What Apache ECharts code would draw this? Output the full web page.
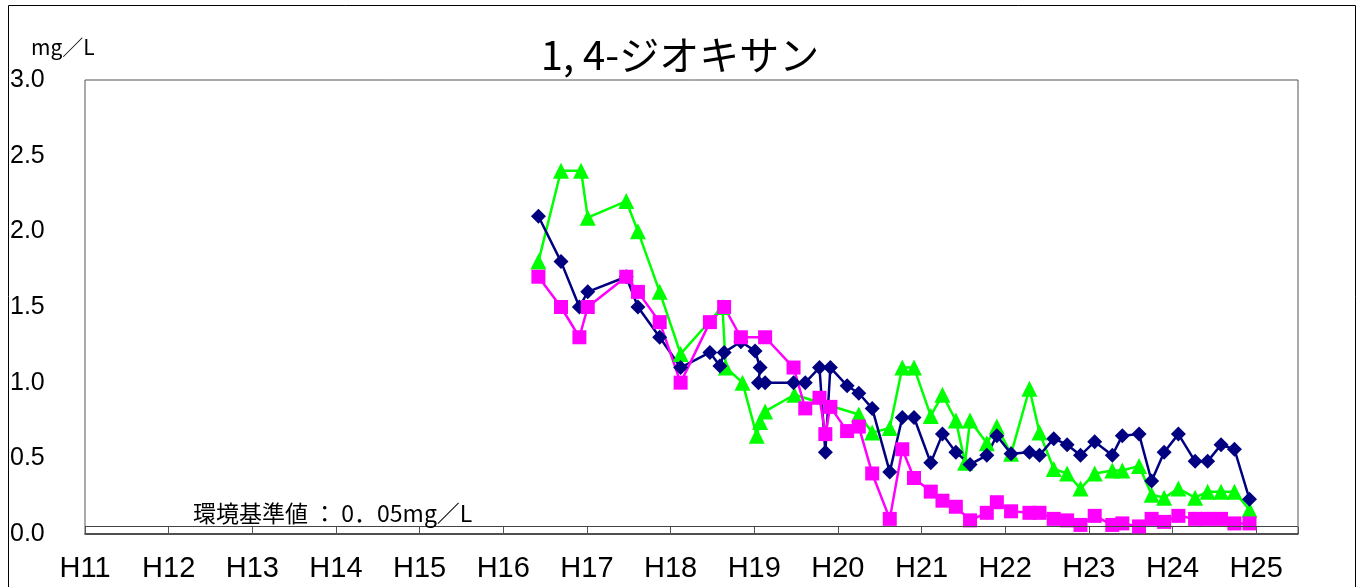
<!DOCTYPE html>
<html><head><meta charset="utf-8">
<script src="https://cdn.jsdelivr.net/npm/echarts@6/dist/echarts.min.js"></script>
<style>html,body{margin:0;padding:0;background:#fff}#c{width:1360px;height:587px}</style>
</head><body><div id="c"></div>
<script>
const yTicks = [0, 0.5, 1.0, 1.5, 2.0, 2.5, 3.0];
const xYears = [11,12,13,14,15,16,17,18,19,20,21,22,23,24,25];
const standardValue = 0.05;

const navyT = [16.42,16.69,16.91,17.01,17.47,17.61,17.87,18.12,18.47,18.59,18.64,18.84,19.01,19.07,19.05,19.13,19.47,19.61,19.78,19.85,19.91,20.11,20.25,20.41,20.62,20.77,20.91,21.11,21.25,21.41,21.58,21.78,21.90,22.07,22.29,22.41,22.58,22.74,22.90,23.07,23.28,23.40,23.60,23.75,23.90,24.07,24.27,24.42,24.58,24.74,24.92];
const navyV = [2.10,1.80,1.50,1.60,1.70,1.50,1.30,1.10,1.20,1.11,1.20,1.27,1.21,1.10,1.00,1.00,1.00,1.00,1.10,0.54,1.10,0.98,0.93,0.83,0.41,0.77,0.77,0.47,0.66,0.54,0.46,0.52,0.65,0.53,0.54,0.52,0.63,0.59,0.52,0.61,0.52,0.65,0.66,0.35,0.54,0.66,0.48,0.48,0.59,0.56,0.23];

const pinkT = [16.42,16.69,16.91,17.01,17.47,17.61,17.87,18.12,18.47,18.64,18.84,19.13,19.47,19.61,19.78,19.85,19.91,20.11,20.25,20.41,20.62,20.77,20.91,21.11,21.25,21.41,21.58,21.78,21.90,22.07,22.29,22.41,22.58,22.74,22.90,23.07,23.28,23.40,23.60,23.75,23.90,24.07,24.27,24.42,24.58,24.74,24.92];
const pinkV = [1.70,1.50,1.30,1.50,1.70,1.60,1.40,1.00,1.40,1.50,1.30,1.30,1.10,0.83,0.90,0.66,0.84,0.68,0.71,0.40,0.10,0.56,0.37,0.28,0.22,0.18,0.09,0.14,0.21,0.15,0.14,0.14,0.10,0.09,0.06,0.12,0.06,0.07,0.05,0.10,0.08,0.12,0.10,0.10,0.10,0.07,0.07];

const greenT = [16.42,16.69,16.93,17.01,17.47,17.61,17.87,18.12,18.62,18.66,18.86,19.03,19.07,19.13,19.48,20.25,20.41,20.62,20.77,20.91,21.11,21.25,21.41,21.52,21.58,21.78,21.90,22.07,22.29,22.41,22.58,22.74,22.90,23.07,23.28,23.40,23.60,23.75,23.90,24.07,24.27,24.42,24.58,24.74,24.92];
const greenV = [1.80,2.40,2.40,2.09,2.20,2.00,1.60,1.19,1.50,1.10,1.00,0.65,0.74,0.81,0.92,0.79,0.67,0.70,1.10,1.10,0.78,0.92,0.75,0.47,0.75,0.60,0.71,0.53,0.96,0.67,0.43,0.40,0.30,0.40,0.42,0.42,0.45,0.26,0.24,0.30,0.24,0.28,0.28,0.28,0.16];

const zip = (t, v) => t.map((x, i) => [x, v[i]]);

const chart = echarts.init(document.getElementById('c'), null, {renderer: 'canvas'});
chart.setOption({
  animation: false,
  backgroundColor: '#fff',
  title: [
    {text: '1, 4-ジオキサン', left: 'center', top: 30,
     textStyle: {fontFamily: 'Noto Sans CJK JP', fontSize: 40, fontWeight: 'normal', color: '#000'}},
    {text: 'mg／L', left: 26, top: 32,
     textStyle: {fontFamily: 'Noto Sans CJK JP', fontSize: 21, fontWeight: 'normal', color: '#000'}},
    {text: '環境基準値 ： 0．05mg／L', left: 188, top: 497,
     textStyle: {fontFamily: 'Noto Sans CJK JP', fontSize: 23, fontWeight: 'normal', color: '#000'}}
  ],
  graphic: [{type: 'rect', shape: {x: 8.5, y: 5.5, width: 1347, height: 600},
    style: {fill: 'none', stroke: '#000', lineWidth: 1}, silent: true}],
  grid: {left: 85, right: 62, top: 80, bottom: 53, show: true, borderColor: '#555', borderWidth: 1, backgroundColor: '#fff'},
  xAxis: {
    type: 'value', min: xYears[0], max: 25.5, interval: 1,
    axisLine: {show: true, onZero: false, lineStyle: {color: '#333', width: 1.5}},
    axisTick: {show: true, inside: true, length: 7, lineStyle: {color: '#555'}},
    splitLine: {show: false},
    axisLabel: {margin: 20, color: '#000', fontFamily: 'Liberation Sans', fontSize: 29,
      formatter: v => xYears.includes(v) ? 'H' + v : ''}
  },
  yAxis: {
    type: 'value', min: yTicks[0], max: yTicks[yTicks.length - 1], interval: 0.5,
    axisLine: {show: false}, axisTick: {show: false}, splitLine: {show: false},
    axisLabel: {margin: 75, align: 'left', color: '#000', fontFamily: 'Liberation Sans', fontSize: 25,
      formatter: v => v.toFixed(1)}
  },
  series: [
    {type: 'line', data: zip(greenT, greenV), symbol: 'triangle', symbolSize: 16,
     lineStyle: {color: '#00ff00', width: 2.5}, itemStyle: {color: '#00ff00'},
     markLine: {silent: true, symbol: 'none', label: {show: false},
       lineStyle: {color: '#444', width: 1.2, type: 'solid'}, data: [{yAxis: standardValue}]}},
    {type: 'line', data: zip(navyT, navyV), symbol: 'diamond', symbolSize: 15,
     lineStyle: {color: '#000080', width: 2.5}, itemStyle: {color: '#000080'}},
    {type: 'line', data: zip(pinkT, pinkV), symbol: 'rect', symbolSize: 14,
     lineStyle: {color: '#ff00ff', width: 2.5}, itemStyle: {color: '#ff00ff'}}
  ]
});
</script></body></html>
